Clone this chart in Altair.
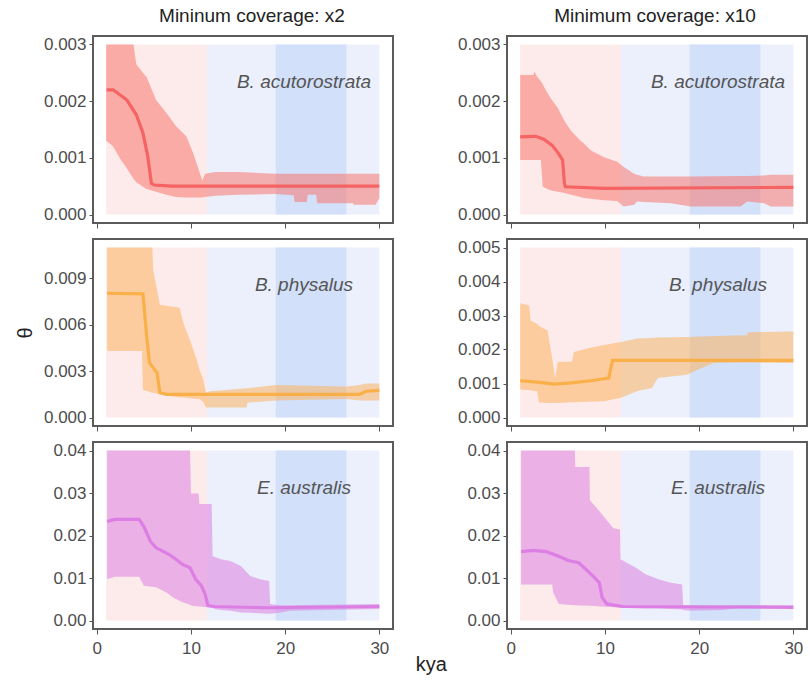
import altair as alt
import pandas as pd

# ---------------- data ----------------
X_DOMAIN = [-0.4, 31.45]
X_TICKS = [0, 10, 20, 30]

PERIOD_X1 = [1.0, 11.7, 19.0]
PERIOD_X2 = [11.7, 30.0, 26.5]
PERIOD_COLORS = ["#FDEBEB", "#EBF0FC", "#D3E0FA"]

COLUMN_TITLES = ["Mininum coverage: x2", "Minimum coverage: x10"]
SPECIES = ["B. acutorostrata", "B. physalus", "E. australis"]

RIBBON_COLORS = ["#F8766D", "#FCB25E", "#DD7FE0"]
LINE_COLORS = ["#F45F5F", "#F9AE45", "#DB7BE3"]

# B. acutorostrata, x2
TL_band_x = [1.0, 1.7, 2.5, 3.2, 3.9, 4.2, 4.9, 5.3, 6.3, 7.4, 8.4, 9.5, 10.2, 10.9, 11.2, 11.5, 12.6, 15.0, 18.9, 20.9, 21.0, 22.3, 22.4, 23.3, 23.4, 27.2, 27.3, 29.6, 30.0]
TL_band_hi = [0.003, 0.003, 0.003, 0.003, 0.003, 0.00265, 0.0025, 0.00242, 0.00202, 0.00179, 0.00156, 0.00138, 0.0011, 0.00075, 0.0006, 0.00072, 0.00075, 0.00075, 0.00072, 0.00072, 0.00072, 0.00072, 0.00072, 0.00072, 0.00072, 0.00072, 0.00072, 0.00072, 0.00072]
TL_band_lo = [0.0013, 0.00121, 0.00098, 0.00081, 0.00063, 0.00057, 0.00049, 0.00045, 0.0004, 0.00035, 0.00031, 0.0003, 0.0003, 0.0003, 0.0003, 0.00031, 0.00033, 0.00035, 0.00036, 0.00034, 0.00022, 0.00022, 0.00035, 0.00035, 0.0002, 0.0002, 0.00017, 0.00017, 0.00029]
TL_med_x = [1.05, 1.75, 3.2, 4.2, 4.9, 5.4, 5.8, 6.1, 8.0, 30.0]
TL_med_y = [0.0022, 0.0022, 0.00202, 0.00176, 0.00144, 0.00104, 0.00055, 0.00052, 0.0005, 0.0005]

# B. acutorostrata, x10
TR_band_x = [1.0, 2.4, 2.5, 2.8, 3.2, 3.4, 3.5, 4.2, 5.0, 5.7, 6.4, 7.4, 7.8, 8.5, 9.9, 11.3, 12.0, 13.1, 13.4, 14.1, 17.0, 19.1, 24.4, 25.1, 26.9, 27.6, 30.0]
TR_band_hi = [0.00246, 0.00246, 0.00253, 0.00243, 0.00235, 0.0023, 0.00226, 0.00206, 0.00188, 0.00165, 0.00148, 0.0013, 0.00125, 0.00113, 0.00101, 0.00093, 0.00084, 0.00072, 0.0007, 0.00067, 0.00067, 0.00067, 0.00068, 0.00068, 0.00069, 0.0007, 0.0007]
TR_band_lo = [0.00096, 0.00096, 0.00096, 0.00096, 0.00096, 0.00049, 0.00048, 0.00043, 0.0004, 0.00038, 0.00035, 0.00031, 0.00029, 0.00028, 0.00025, 0.00024, 0.00014, 0.00017, 0.00023, 0.00022, 0.0002, 0.00014, 0.00014, 0.00023, 0.0002, 0.00014, 0.00014]
TR_med_x = [1.0, 2.65, 3.5, 4.4, 5.1, 5.5, 5.7, 5.8, 9.9, 30.0]
TR_med_y = [0.00137, 0.00138, 0.00133, 0.00122, 0.00107, 0.00096, 0.00055, 0.00049, 0.00046, 0.00048]

# B. physalus, x2
ML_band_x = [1.1, 4.8, 4.9, 5.9, 6.0, 6.7, 8.8, 9.2, 9.9, 10.6, 10.9, 11.3, 11.6, 12.0, 15.9, 16.0, 19.0, 26.5, 27.9, 28.6, 30.0]
ML_band_hi = [0.011, 0.011, 0.011, 0.011, 0.0095, 0.0073, 0.0071, 0.0061, 0.005, 0.00375, 0.0031, 0.00246, 0.0016, 0.0017, 0.0019, 0.0019, 0.0021, 0.002, 0.0021, 0.0022, 0.0022]
ML_band_lo = [0.0043, 0.0043, 0.0018, 0.0016, 0.0016, 0.0015, 0.0013, 0.0013, 0.00125, 0.0012, 0.0012, 0.001, 0.00064, 0.00064, 0.00064, 0.00096, 0.0011, 0.0012, 0.0011, 0.0011, 0.0011]
ML_med_x = [1.1, 4.9, 5.3, 5.6, 6.0, 6.4, 6.7, 7.4, 27.9, 28.6, 30.0]
ML_med_y = [0.00804, 0.008, 0.00525, 0.00354, 0.00321, 0.0029, 0.0016, 0.0015, 0.0015, 0.0017, 0.00176]

# B. physalus, x10
MR_band_x = [1.0, 1.95, 2.1, 2.8, 3.0, 3.2, 3.9, 4.4, 4.7, 5.0, 6.5, 6.7, 8.1, 9.9, 11.7, 13.4, 15.0, 15.6, 18.7, 20.2, 21.6, 25.1, 25.2, 30.0]
MR_band_hi = [0.00336, 0.0033, 0.00285, 0.00275, 0.0027, 0.00266, 0.00256, 0.00174, 0.00116, 0.00164, 0.00164, 0.00193, 0.00203, 0.00213, 0.00222, 0.00232, 0.00234, 0.00235, 0.00237, 0.00238, 0.0024, 0.00242, 0.00251, 0.00253]
MR_band_lo = [0.00082, 0.0008, 0.0008, 0.00077, 0.00044, 0.00044, 0.00043, 0.00043, 0.00043, 0.00043, 0.00045, 0.00045, 0.00046, 0.00048, 0.00058, 0.00077, 0.00087, 0.00116, 0.00126, 0.00145, 0.0016, 0.00162, 0.00162, 0.0016]
MR_med_x = [1.0, 2.8, 4.6, 6.4, 8.5, 10.4, 10.8, 30.0]
MR_med_y = [0.00108, 0.00104, 0.00098, 0.00102, 0.00108, 0.00116, 0.00168, 0.00168]

# E. australis, x2
BL_band_x = [1.1, 1.9, 4.5, 5.0, 6.3, 7.4, 8.1, 9.1, 9.9, 10.0, 10.1, 10.8, 10.9, 11.8, 12.2, 12.3, 12.5, 13.2, 14.2, 15.3, 16.3, 17.3, 18.3, 18.4, 19.4, 20.5, 30.0]
BL_band_hi = [0.04, 0.04, 0.04, 0.04, 0.04, 0.04, 0.04, 0.04, 0.04, 0.0299, 0.0299, 0.0299, 0.0274, 0.0274, 0.0274, 0.0151, 0.015, 0.0144, 0.014, 0.0128, 0.0105, 0.0097, 0.0093, 0.0039, 0.0036, 0.0036, 0.0039]
BL_band_lo = [0.0097, 0.0103, 0.0103, 0.0082, 0.0078, 0.0066, 0.0054, 0.0043, 0.0037, 0.0036, 0.0035, 0.0033, 0.0033, 0.0031, 0.003, 0.003, 0.0027, 0.0025, 0.0023, 0.0019, 0.0018, 0.0017, 0.0016, 0.0016, 0.0018, 0.0023, 0.0027]
BL_med_x = [1.1, 1.9, 4.5, 5.0, 5.7, 6.3, 7.7, 8.4, 9.1, 9.9, 10.5, 11.1, 11.5, 11.8, 12.5, 18.0, 30.0]
BL_med_y = [0.0233, 0.0238, 0.0238, 0.0221, 0.0186, 0.0171, 0.0155, 0.0144, 0.0132, 0.0124, 0.0097, 0.0082, 0.0062, 0.0035, 0.0033, 0.003, 0.0033]

# E. australis, x10
BR_band_x = [1.1, 4.4, 4.5, 5.1, 6.8, 6.85, 8.35, 8.4, 9.5, 10.9, 11.6, 11.65, 13.3, 14.3, 15.7, 17.0, 18.2, 18.3, 19.1, 22.5, 24.0, 30.0]
BR_band_hi = [0.04, 0.04, 0.04, 0.04, 0.04, 0.0361, 0.0361, 0.0283, 0.0255, 0.0217, 0.0214, 0.0144, 0.0124, 0.0109, 0.0097, 0.0089, 0.0085, 0.0036, 0.0035, 0.0035, 0.0036, 0.0036]
BR_band_lo = [0.0085, 0.0085, 0.0066, 0.0039, 0.0036, 0.0036, 0.0035, 0.0035, 0.0033, 0.0031, 0.003, 0.003, 0.0029, 0.0028, 0.0028, 0.0027, 0.0026, 0.0025, 0.0023, 0.0025, 0.0029, 0.0031]
BR_med_x = [1.1, 2.4, 3.75, 5.1, 6.1, 7.2, 7.8, 8.9, 9.4, 9.7, 10.2, 11.9, 30.0]
BR_med_y = [0.0162, 0.0165, 0.0162, 0.0151, 0.0141, 0.0136, 0.0124, 0.0101, 0.0089, 0.0054, 0.0039, 0.0033, 0.0031]

# per-panel y ranges and ticks (row-major: TL, TR, ML, MR, BL, BR)
Y_MAX = [0.003, 0.003, 0.011, 0.005, 0.04, 0.04]
Y_TICKS = [
    [0, 0.001, 0.002, 0.003],
    [0, 0.001, 0.002, 0.003],
    [0, 0.003, 0.006, 0.009],
    [0, 0.001, 0.002, 0.003, 0.004, 0.005],
    [0, 0.01, 0.02, 0.03, 0.04],
    [0, 0.01, 0.02, 0.03, 0.04],
]
Y_FORMAT = [".3f", ".3f", ".3f", ".3f", ".2f", ".2f"]

PANELS = [
    (TL_band_x, TL_band_lo, TL_band_hi, TL_med_x, TL_med_y),
    (TR_band_x, TR_band_lo, TR_band_hi, TR_med_x, TR_med_y),
    (ML_band_x, ML_band_lo, ML_band_hi, ML_med_x, ML_med_y),
    (MR_band_x, MR_band_lo, MR_band_hi, MR_med_x, MR_med_y),
    (BL_band_x, BL_band_lo, BL_band_hi, BL_med_x, BL_med_y),
    (BR_band_x, BR_band_lo, BR_band_hi, BR_med_x, BR_med_y),
]

FONT = "Liberation Sans"
W, H = 300, 187


def make_panel(i):
    row, col = divmod(i, 2)
    bx, blo, bhi, mx, my = PANELS[i]
    ymax = Y_MAX[i]
    pad = ymax * 0.05
    xscale = alt.Scale(domain=X_DOMAIN, nice=False, zero=False)
    yscale = alt.Scale(domain=[-pad, ymax + pad], nice=False, zero=False)
    xaxis = alt.Axis(values=X_TICKS, labels=(row == 2), domain=False, grid=False,
                     ticks=True, tickSize=5, tickColor="#555555", labelFontSize=17,
                     labelColor="#4d4d4d", labelFont=FONT, labelPadding=6, title=None)
    yaxis_kw = dict(values=Y_TICKS[i], format=Y_FORMAT[i], domain=False, grid=False,
                    ticks=True, tickSize=4, tickColor="#555555", labelFontSize=17,
                    labelColor="#4d4d4d", labelFont=FONT, labelPadding=3)
    if i == 2:
        yaxis = alt.Axis(title="θ", titleFontSize=20, titleFont=FONT, titleFontWeight="normal",
                         titleColor="#222222", titlePadding=8, **yaxis_kw)
    else:
        yaxis = alt.Axis(title=None, **yaxis_kw)

    def X(f):
        return alt.X(f, type="quantitative", scale=xscale, axis=xaxis)

    def Y(f):
        return alt.Y(f, type="quantitative", scale=yscale, axis=yaxis)

    bg = pd.DataFrame({"x1": PERIOD_X1, "x2": PERIOD_X2,
                       "y1": [0.0] * 3, "y2": [ymax] * 3, "c": PERIOD_COLORS,
                       "o": [0, 1, 2]})
    band = pd.DataFrame({"x": bx, "lo": blo, "hi": bhi})
    med = pd.DataFrame({"x": mx, "y": my})
    lab = pd.DataFrame({"x": [22.0], "y": [ymax * 0.78], "t": [SPECIES[row]]})

    l_bg = alt.Chart(bg).mark_rect().encode(
        x=X("x1"), x2="x2", y=Y("y1"), y2="y2",
        color=alt.Color("c:N", scale=None), order="o:Q")
    l_band = alt.Chart(band).mark_area(color=RIBBON_COLORS[row], opacity=0.55).encode(
        x=X("x"), y=Y("lo"), y2="hi")
    l_line = alt.Chart(med).mark_line(color=LINE_COLORS[row], strokeWidth=3.2, opacity=0.95).encode(
        x=X("x"), y=Y("y"))
    l_text = alt.Chart(lab).mark_text(font=FONT, fontSize=19, fontStyle="italic",
                                      color="#555555", align="center", baseline="middle").encode(
        x=X("x"), y=Y("y"), text="t:N")
    props = dict(width=W, height=H)
    if row == 0:
        props["title"] = alt.TitleParams(COLUMN_TITLES[col], fontSize=19, font=FONT,
                                         fontWeight="normal", color="#222222", offset=10,
                                         dx=9 if col == 0 else -2)
    return alt.layer(l_bg, l_band, l_line, l_text).properties(**props)


panels = [make_panel(i) for i in range(6)]

chart = alt.concat(*panels, columns=2, spacing={"row": 16, "column": 114}, bounds="flush").properties(
    title=alt.TitleParams("kya", orient="bottom", anchor="middle", fontSize=20, font=FONT,
                          fontWeight="normal", color="#222222", dx=20, offset=0, dy=-2),
    padding={"left": 14, "top": 5, "right": 2, "bottom": 2},
).configure_view(stroke="#5b5b5b", strokeWidth=2)

chart.save("out.html", embed_options={"renderer": "svg", "actions": False})
